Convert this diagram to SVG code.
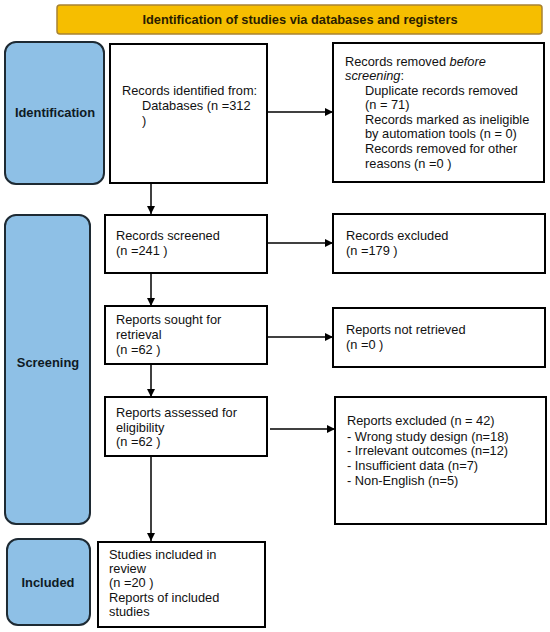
<svg xmlns="http://www.w3.org/2000/svg" width="550" height="632" viewBox="0 0 550 632">
<defs>
<style>
.box{fill:#ffffff;stroke:#000000;stroke-width:2}
.phase{fill:#8EC0E6;stroke:#1e2a33;stroke-width:2}
.title{fill:#F6BE00;stroke:#A88333;stroke-width:1.5}
text{font-family:"Liberation Sans",Arial,sans-serif;font-size:12.8px;fill:#111111}
.ph{font-weight:bold;font-size:12.9px;text-anchor:middle;fill:#0f1a24}
.tt{font-weight:bold;font-size:12.8px;text-anchor:middle;fill:#2a1d00}
.conn line{stroke:#000000;stroke-width:1.5;marker-end:url(#arr)}
</style>
<marker id="arr" viewBox="0 0 10 10" refX="10" refY="5" markerWidth="8" markerHeight="8" markerUnits="userSpaceOnUse" orient="auto">
<path d="M0,0 L10,5 L0,10 z" fill="#000000"/>
</marker>
</defs>
<rect width="550" height="632" fill="#ffffff"/>

<g id="title">
<rect class="title" x="57" y="5" width="485" height="29" rx="3"/>
<text class="tt" x="300" y="24">Identification of studies via databases and registers</text>
</g>

<g id="phase-identification">
<rect class="phase" x="5" y="42" width="99" height="142" rx="11"/>
<text class="ph" x="55" y="117">Identification</text>
</g>
<g id="phase-screening">
<rect class="phase" x="5" y="215" width="85" height="309" rx="11"/>
<text class="ph" x="48" y="367">Screening</text>
</g>
<g id="phase-included">
<rect class="phase" x="7" y="539" width="83" height="86" rx="11"/>
<text class="ph" x="48" y="587">Included</text>
</g>

<g id="records-identified">
<rect class="box" x="110" y="44" width="157" height="139"/>
<text x="122" y="95">Records identified from:</text>
<text x="142" y="110">Databases (n =312</text>
<text x="142" y="125">)</text>
</g>

<g id="records-removed">
<rect class="box" x="333" y="43" width="211" height="139"/>
<text x="345" y="66">Records removed <tspan font-style="italic">before</tspan></text>
<text x="345" y="80"><tspan font-style="italic">screening</tspan>:</text>
<text x="365" y="95">Duplicate records removed</text>
<text x="365" y="109">(n = 71)</text>
<text x="365" y="124">Records marked as ineligible</text>
<text x="365" y="138">by automation tools (n = 0)</text>
<text x="365" y="153">Records removed for other</text>
<text x="365" y="168">reasons (n =0 )</text>
</g>

<g id="records-screened">
<rect class="box" x="105" y="215" width="162" height="58"/>
<text x="116" y="240">Records screened</text>
<text x="116" y="255">(n =241 )</text>
</g>

<g id="records-excluded">
<rect class="box" x="333" y="214" width="212" height="59"/>
<text x="346" y="240">Records excluded</text>
<text x="346" y="255">(n =179 )</text>
</g>

<g id="reports-sought">
<rect class="box" x="105" y="306" width="162" height="58"/>
<text x="116" y="324">Reports sought for</text>
<text x="116" y="339">retrieval</text>
<text x="116" y="354">(n =62 )</text>
</g>

<g id="reports-not-retrieved">
<rect class="box" x="333" y="308" width="212" height="59"/>
<text x="346" y="334">Reports not retrieved</text>
<text x="346" y="349">(n =0 )</text>
</g>

<g id="reports-assessed">
<rect class="box" x="105" y="397" width="162" height="59"/>
<text x="116" y="417">Reports assessed for</text>
<text x="116" y="432">eligibility</text>
<text x="116" y="446">(n =62 )</text>
</g>

<g id="reports-excluded">
<rect class="box" x="335" y="397" width="211" height="127"/>
<text x="347" y="425">Reports excluded (n = 42)</text>
<text x="347" y="441">- Wrong study design (n=18)</text>
<text x="347" y="455">- Irrelevant outcomes (n=12)</text>
<text x="347" y="470">- Insufficient data (n=7)</text>
<text x="347" y="485">- Non-English (n=5)</text>
</g>

<g id="studies-included">
<rect class="box" x="98" y="542" width="167" height="85"/>
<text x="109" y="559">Studies included in</text>
<text x="109" y="573">review</text>
<text x="109" y="587">(n =20 )</text>
<text x="109" y="602">Reports of included</text>
<text x="109" y="616">studies</text>
</g>

<g id="connectors" class="conn">
<line x1="151" y1="183" x2="151" y2="214"/>
<line x1="267" y1="112" x2="333" y2="112"/>
<line x1="267" y1="243" x2="333" y2="243"/>
<line x1="151" y1="273" x2="151" y2="306"/>
<line x1="267" y1="337" x2="333" y2="337"/>
<line x1="151" y1="364" x2="151" y2="397"/>
<line x1="270" y1="429" x2="335" y2="429"/>
<line x1="151" y1="456" x2="151" y2="541"/>
</g>
</svg>
